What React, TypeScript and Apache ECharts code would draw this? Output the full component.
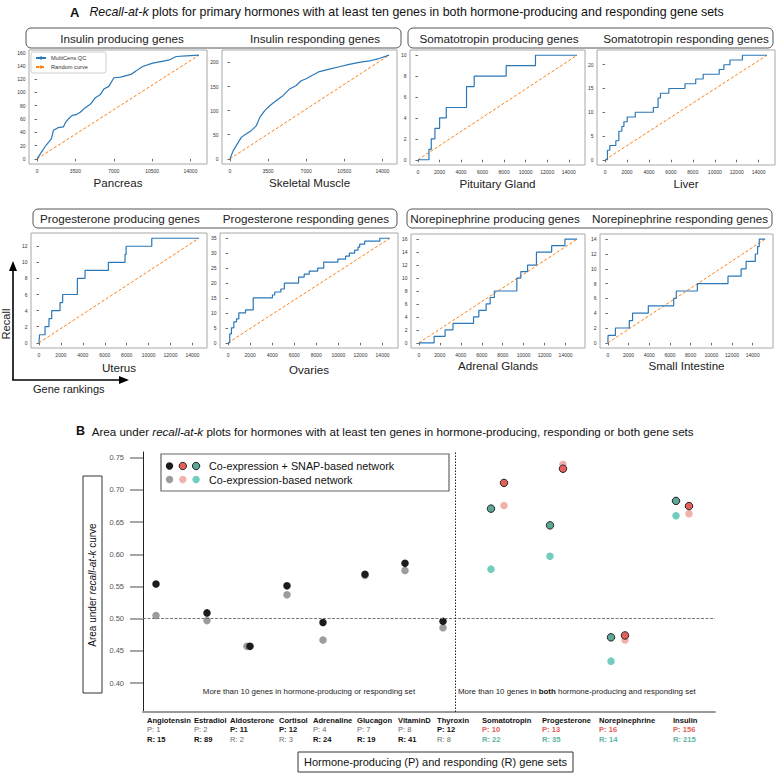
import React, { useEffect, useRef } from "react";
import * as echarts from "echarts";

// ---------------- Panel A data (gene rank, recall) ----------------
const pancreasCurve = [[0,0],[400,10],[800,20],[1300,30],[1500,43],[1940,47],[2400,48],[2600,55],[2860,60],[3170,65],[3630,67],[3940,70],[4400,77],[4860,82],[5320,92],[5785,97],[6090,105],[6550,109],[7015,122],[7630,123],[8550,127],[9015,132],[9630,139],[10550,144],[11170,146],[12090,149],[12700,154],[13630,155],[14770,156]];
const skeletalMuscleCurve = [[0,0],[300,17],[760,34],[1065,45],[1520,52],[1980,59],[2430,69],[2740,86],[3195,100],[3650,110],[4260,121],[4870,131],[5480,145],[6090,152],[6540,162],[7000,166],[7455,172],[8215,181],[9130,186],[10040,191],[10950,196],[11870,200],[12780,203],[13690,208],[14610,215]];
const pituitaryCurve = [[0,0],[1020,1],[1236,2],[1576,3],[2010,4],[2627,5],[4510,7],[5220,8],[8190,9],[10910,10],[14770,10]];
const liverCurve = [[0,0],[215,2],[430,3],[980,4],[1255,6],[1530,7],[1715,8],[2020,9],[2750,10],[4400,11],[4830,13],[5050,14],[5810,15],[7280,16],[8260,17],[8940,18],[10400,19],[10830,20],[11380,21],[12520,22],[14750,22]];
const uterusCurve = [[0,0],[50,1],[550,2],[910,3],[1160,4],[1920,5],[2160,6],[3500,8],[4200,9],[6330,10],[7850,11],[7950,12],[10290,13],[14600,13]];
const ovariesCurve = [[0,0],[150,3],[300,5],[520,7],[760,8],[975,10],[1580,11],[2280,15],[4020,16],[4230,17],[4780,18],[5100,20],[6390,22],[6900,23],[7360,24],[8120,25],[8670,27],[9950,28],[10650,29],[11000,30],[11470,31],[11780,32],[11930,33],[12380,34],[13750,35],[14670,35]];
const adrenalCurve = [[0,0],[1454,1],[2500,2],[3255,3],[5215,4],[5720,5],[6420,6],[6800,7],[7200,8],[9350,10],[9730,11],[10370,12],[11220,14],[12670,15],[13940,16],[15100,16]];
const smallIntestineCurve = [[0,0],[20,1],[730,2],[2070,3],[2385,4],[3910,5],[6360,6],[6615,7],[8650,8],[11610,9],[12880,10],[13360,11],[14250,12],[14470,13],[14630,14],[15200,14]];

const insulinXTicks = [0, 3500, 7000, 10500, 14000];
const stepXTicks = [0, 2000, 4000, 6000, 8000, 10000, 12000, 14000];
const pancreasYTicks = [0, 20, 40, 60, 80, 100, 120, 140, 160];
const skeletalYTicks = [0, 50, 100, 150, 200];
const pituitaryYTicks = [0, 2, 4, 6, 8, 10];
const liverYTicks = [0, 5, 10, 15, 20];
const uterusYTicks = [0, 2, 4, 6, 8, 10, 12];
const ovariesYTicks = [0, 5, 10, 15, 20, 25, 30, 35];
const adrenalYTicks = [0, 2, 4, 6, 8, 10, 12, 14, 16];
const intestineYTicks = [0, 2, 4, 6, 8, 10, 12, 14];

const panelTitles = [
  "Insulin producing genes", "Insulin responding genes",
  "Somatotropin producing genes", "Somatotropin responding genes",
  "Progesterone producing genes", "Progesterone responding genes",
  "Norepinephrine producing genes", "Norepinephrine responding genes",
];
const tissues = ["Pancreas", "Skeletal Muscle", "Pituitary Gland", "Liver", "Uterus", "Ovaries", "Adrenal Glands", "Small Intestine"];
const curves = [pancreasCurve, skeletalMuscleCurve, pituitaryCurve, liverCurve, uterusCurve, ovariesCurve, adrenalCurve, smallIntestineCurve];
const stepped = [false, false, true, true, true, true, true, true];
const xTicksList = [insulinXTicks, insulinXTicks, stepXTicks, stepXTicks, stepXTicks, stepXTicks, stepXTicks, stepXTicks];
const yTicksList = [pancreasYTicks, skeletalYTicks, pituitaryYTicks, liverYTicks, uterusYTicks, ovariesYTicks, adrenalYTicks, intestineYTicks];

// ---------------- Panel B data ----------------
const hormonesA = ["Angiotensin", "Estradiol", "Aldosterone", "Cortisol", "Adrenaline", "Glucagon", "VitaminD", "Thyroxin"];
const producingA = [1, 2, 11, 12, 4, 7, 8, 12];
const respondingA = [15, 89, 2, 3, 24, 19, 41, 8];
const snapAucA = [0.554, 0.509, 0.457, 0.551, 0.494, 0.569, 0.586, 0.496];
const coexpAucA = [0.505, 0.497, 0.457, 0.537, 0.467, 0.567, 0.575, 0.486];
const hormonesB = ["Somatotropin", "Progesterone", "Norepinephrine", "Insulin"];
const producingB = [10, 13, 16, 156];
const respondingB = [22, 35, 14, 215];
const snapAucP = [0.711, 0.733, 0.474, 0.675];
const coexpAucP = [0.676, 0.740, 0.467, 0.663];
const snapAucR = [0.671, 0.645, 0.471, 0.683];
const coexpAucR = [0.577, 0.597, 0.434, 0.660];
// column positions along the category strip
const snapColA = [13, 64, 107, 144, 180, 222, 262, 300];
const coexpColA = [13, 64, 104, 144, 180, 222, 262, 300];
const colR = [348, 407, 468, 533];
const colP = [361, 420, 482, 546];
const labelColA = [4, 51, 87, 136, 170, 214, 255, 294];
const labelColB = [339, 399, 456, 530];
const splitColumn = 312;
const chanceAuc = 0.5;
const aucTicks = [0.4, 0.45, 0.5, 0.55, 0.6, 0.65, 0.7, 0.75];

// ---------------- layout ----------------
const FONT = "'Liberation Sans', Arial, Helvetica, sans-serif";
const frames = [
  { l: 29, t: 50, w: 178, h: 114, gap: 12 },
  { l: 222, t: 50, w: 175, h: 114, gap: 12 },
  { l: 410, t: 50, w: 175, h: 115, gap: 12 },
  { l: 597, t: 50, w: 178, h: 115, gap: 12 },
  { l: 31, t: 233, w: 176, h: 115, gap: 13 },
  { l: 220, t: 233, w: 178, h: 115, gap: 15 },
  { l: 411, t: 234, w: 174, h: 114, gap: 11 },
  { l: 600, t: 234, w: 173, h: 114, gap: 11 },
];
const titleCenters = [[122, 38], [315, 38], [499, 38], [686, 38], [120, 218.5], [306, 218.5], [495, 218.5], [680, 218.5]];
const titleBoxes = [[26, 28, 375, 20], [408, 28, 365, 20], [33, 209, 364, 19], [407, 209, 365, 19]];
const BG = { l: 143, t: 452, w: 572, h: 260 };

const RED = "#e5605a", RED_L = "#f0b2aa", TEAL = "#5ca696", TEAL_L = "#72cdbf";

export default function App() {
  const ref = useRef<HTMLDivElement>(null);
  useEffect(() => {
    const chart = echarts.init(ref.current!, null, { renderer: "svg" });
    const grid: any[] = [], xAxis: any[] = [], yAxis: any[] = [], series: any[] = [];

    curves.forEach((curve, i) => {
      const f = frames[i];
      const last = curve[curve.length - 1];
      const xmax = last[0], ymax = last[1];
      grid.push({ left: f.l, top: f.t, width: f.w, height: f.h, show: true, borderColor: "#a8a8a8", borderWidth: 1, containLabel: false, outerBoundsMode: "none" });
      xAxis.push({
        type: "value", gridIndex: i, min: -0.05 * xmax, max: 1.05 * xmax,
        axisLine: { show: false }, splitLine: { show: false },
        axisTick: { show: true, customValues: xTicksList[i], length: 2.5, lineStyle: { color: "#444", width: 0.8 } },
        axisLabel: { customValues: xTicksList[i], formatter: (v: number) => String(v), fontSize: 5, color: "#333", margin: 4, fontFamily: FONT },
        name: tissues[i], nameLocation: "middle", nameGap: f.gap,
        nameTextStyle: { fontSize: 11.6, color: "#222", fontFamily: FONT },
      });
      yAxis.push({
        type: "value", gridIndex: i, min: -0.05 * ymax, max: 1.05 * ymax,
        axisLine: { show: false }, splitLine: { show: false },
        axisTick: { show: true, customValues: yTicksList[i], length: 2.5, lineStyle: { color: "#444", width: 0.8 } },
        axisLabel: { customValues: yTicksList[i], formatter: (v: number) => String(v), fontSize: 5, color: "#333", margin: 3.5, fontFamily: FONT },
      });
      series.push({
        type: "line", name: "MultiCens QC", xAxisIndex: i, yAxisIndex: i, data: curve,
        step: stepped[i] ? "end" : false, symbol: "none", showSymbol: false,
        lineStyle: { color: "#2a78b8", width: 1.2 }, itemStyle: { color: "#2a78b8" }, z: 3,
      });
      series.push({
        type: "line", name: "Random curve", xAxisIndex: i, yAxisIndex: i, data: [[0, 0], [xmax, ymax]],
        symbol: "none", showSymbol: false,
        lineStyle: { color: "#ff7f0e", width: 1, type: [3, 2] }, itemStyle: { color: "#ff7f0e" }, z: 2,
      });
    });

    const bi = curves.length;
    grid.push({ left: BG.l, top: BG.t, width: BG.w, height: BG.h, show: false, containLabel: false, outerBoundsMode: "none" });
    xAxis.push({
      type: "value", gridIndex: bi, min: 0, max: BG.w,
      axisLine: { show: true, lineStyle: { color: "#9a9a9a", width: 2 } },
      axisTick: { show: false }, axisLabel: { show: false }, splitLine: { show: false },
    });
    yAxis.push({
      type: "value", gridIndex: bi, min: 0.355, max: 0.759,
      axisLine: { show: true, lineStyle: { color: "#222", width: 1 } },
      splitLine: { show: false },
      axisTick: { show: true, customValues: aucTicks, length: 13, lineStyle: { color: "#8a8a8a", width: 1.5 } },
      axisLabel: { customValues: aucTicks, formatter: (v: number) => v.toFixed(2), fontSize: 7.5, color: "#555", margin: 19, fontFamily: FONT },
    });
    const sym = 7.5;
    series.push({
      type: "scatter", name: "coexpA", xAxisIndex: bi, yAxisIndex: bi, symbolSize: sym,
      data: coexpAucA.map((v, i) => [coexpColA[i], v]), itemStyle: { color: "#9c9c9c", opacity: 1 }, z: 3,
      markLine: {
        silent: true, symbol: ["none", "none"], label: { show: false },
        data: [
          { yAxis: chanceAuc, lineStyle: { color: "#777", type: [3, 1.5], width: 1 } },
          { xAxis: splitColumn, lineStyle: { color: "#222", type: [1.5, 1.5], width: 1 } },
        ],
      },
    });
    series.push({
      type: "scatter", name: "snapA", xAxisIndex: bi, yAxisIndex: bi, symbolSize: sym,
      data: snapAucA.map((v, i) => [snapColA[i], v]), itemStyle: { color: "#1c1c1c", opacity: 1 }, z: 4,
    });
    series.push({
      type: "scatter", name: "coexpR", xAxisIndex: bi, yAxisIndex: bi, symbolSize: sym,
      data: coexpAucR.map((v, i) => [colR[i], v]), itemStyle: { color: TEAL_L, opacity: 1 }, z: 3,
    });
    series.push({
      type: "scatter", name: "coexpP", xAxisIndex: bi, yAxisIndex: bi, symbolSize: sym,
      data: coexpAucP.map((v, i) => [colP[i], v]), itemStyle: { color: RED_L, opacity: 1 }, z: 3,
    });
    series.push({
      type: "scatter", name: "snapR", xAxisIndex: bi, yAxisIndex: bi, symbolSize: sym,
      data: snapAucR.map((v, i) => [colR[i], v]), itemStyle: { color: TEAL, borderColor: "#262626", borderWidth: 1, opacity: 1 }, z: 4,
    });
    series.push({
      type: "scatter", name: "snapP", xAxisIndex: bi, yAxisIndex: bi, symbolSize: sym,
      data: snapAucP.map((v, i) => [colP[i], v]), itemStyle: { color: RED, borderColor: "#262626", borderWidth: 1, opacity: 1 }, z: 4,
    });

    chart.setOption({
      animation: false,
      backgroundColor: "#ffffff",
      textStyle: { fontFamily: FONT },
      grid, xAxis, yAxis, series,
      legend: {
        data: ["MultiCens QC", "Random curve"], orient: "vertical", left: 31, top: 52,
        itemWidth: 10, itemHeight: 4, itemGap: 3, padding: [3, 18, 3, 4],
        borderColor: "#cfcfcf", borderWidth: 1, borderRadius: 2, backgroundColor: "#fff",
        textStyle: { fontSize: 5.7, color: "#333", fontFamily: FONT }, selectedMode: false,
      },
    });

    const g: any[] = [];
    const txt = (x: number, y: number, text: string, fontSize: number, extra: any = {}) => ({
      type: "text", x, y, z: 10,
      style: { text, fontSize, fontFamily: FONT, fill: "#111", align: "center", verticalAlign: "middle", ...extra },
    });

    // Panel A titles
    g.push({
      type: "text", x: 70, y: 12, style: {
        text: "{a|A}   {i|Recall-at-k}{n| plots for primary hormones with at least ten genes in both hormone-producing and responding gene sets}",
        fontFamily: FONT, verticalAlign: "middle", align: "left",
        rich: {
          a: { fontWeight: "bold", fontSize: 13, fill: "#111", fontFamily: FONT },
          i: { fontStyle: "italic", fontSize: 12.4, fill: "#111", fontFamily: FONT },
          n: { fontSize: 12.4, fill: "#111", fontFamily: FONT },
        },
      },
    });
    titleBoxes.forEach(([x, y, w, h]) => {
      g.push({ type: "rect", shape: { x, y, width: w, height: h, r: 5 }, style: { fill: "none", stroke: "#555", lineWidth: 1 } });
    });
    panelTitles.forEach((t, i) => g.push(txt(titleCenters[i][0], titleCenters[i][1], t, 11.7, { fill: "#222" })));

    // Recall / Gene rankings arrows
    g.push({ type: "line", shape: { x1: 13, y1: 380, x2: 13, y2: 268 }, style: { stroke: "#000", lineWidth: 1.6 } });
    g.push({ type: "polygon", shape: { points: [[13, 261], [9, 271], [17, 271]] }, style: { fill: "#000" } });
    g.push({ type: "line", shape: { x1: 12.2, y1: 380, x2: 122, y2: 380 }, style: { stroke: "#000", lineWidth: 1.6 } });
    g.push({ type: "polygon", shape: { points: [[129, 380], [119, 376], [119, 384]] }, style: { fill: "#000" } });
    g.push({ ...txt(6, 324, "Recall", 11.2, { fill: "#222" }), rotation: Math.PI / 2 });
    g.push(txt(33, 389, "Gene rankings", 11, { align: "left", fill: "#222" }));

    // Panel B title
    g.push({
      type: "text", x: 76, y: 431, style: {
        text: "{a|B}  {n|Area under }{i|recall-at-k}{n| plots for hormones with at least ten genes in hormone-producing, responding or both gene sets}",
        fontFamily: FONT, verticalAlign: "middle", align: "left",
        rich: {
          a: { fontWeight: "bold", fontSize: 12.5, fill: "#111", fontFamily: FONT },
          i: { fontStyle: "italic", fontSize: 11.6, fill: "#111", fontFamily: FONT },
          n: { fontSize: 11.6, fill: "#111", fontFamily: FONT },
        },
      },
    });
    // Panel B legend
    g.push({ type: "rect", shape: { x: 161, y: 454, width: 288, height: 37 }, style: { fill: "#fff", stroke: "#666", lineWidth: 1.2 }, z: 5 });
    [["#1c1c1c", RED, TEAL], ["#9c9c9c", RED_L, TEAL_L]].forEach((row, ri) => {
      row.forEach((c, ci) => {
        const border = ri === 0 && ci > 0;
        g.push({ type: "circle", z: 6, shape: { cx: 169.5 + ci * 13.3, cy: 466 + ri * 13.5, r: 3.7 }, style: { fill: c, stroke: border ? "#262626" : null, lineWidth: border ? 1 : 0 } });
      });
    });
    g.push({ ...txt(209, 466, "Co-expression + SNAP-based network", 10.8, { align: "left", fill: "#111" }), z: 6 });
    g.push({ ...txt(209, 479.5, "Co-expression-based network", 10.8, { align: "left", fill: "#111" }), z: 6 });

    // y-axis name box
    g.push({ type: "rect", shape: { x: 83, y: 476, width: 19, height: 217 }, style: { fill: "none", stroke: "#333", lineWidth: 1 } });
    g.push({
      type: "text", x: 92.5, y: 585, rotation: Math.PI / 2, style: {
        text: "{n|Area under }{i|recall-at-k}{n| curve}", align: "center", verticalAlign: "middle", fontFamily: FONT,
        rich: {
          n: { fontSize: 10, fill: "#111", fontFamily: FONT },
          i: { fontSize: 10, fontStyle: "italic", fill: "#111", fontFamily: FONT },
        },
      },
    });
    // region captions
    g.push(txt(309, 691, "More than 10 genes in hormone-producing or responding set", 7.9, { fill: "#222" }));
    g.push({
      type: "text", x: 458, y: 691, style: {
        text: "{n|More than 10 genes in }{b|both}{n| hormone-producing and responding set}", align: "left", verticalAlign: "middle", fontFamily: FONT,
        rich: {
          n: { fontSize: 7.9, fill: "#222", fontFamily: FONT },
          b: { fontSize: 7.9, fill: "#111", fontWeight: "bold", fontFamily: FONT },
        },
      },
    });

    // hormone labels under the strip
    const labelRich = {
      nm: { fontSize: 7.6, fontWeight: "bold", fill: "#111", fontFamily: FONT, lineHeight: 9.6 },
      cn: { fontSize: 7.6, fill: "#6a6a6a", fontFamily: FONT, lineHeight: 9.6 },
      cb: { fontSize: 7.6, fontWeight: "bold", fill: "#111", fontFamily: FONT, lineHeight: 9.6 },
      cp: { fontSize: 7.6, fontWeight: "bold", fill: RED, fontFamily: FONT, lineHeight: 9.6 },
      cr: { fontSize: 7.6, fontWeight: "bold", fill: "#5cb5a5", fontFamily: FONT, lineHeight: 9.6 },
    };
    const px = (v: number) => chart.convertToPixel({ xAxisIndex: bi }, v) as number;
    hormonesA.forEach((h, i) => {
      const p = producingA[i] >= 10 ? "cb" : "cn";
      const r = respondingA[i] >= 10 ? "cb" : "cn";
      g.push({ type: "text", x: px(labelColA[i]), y: 715.5, style: { text: `{nm|${h}}\n{${p}|P: ${producingA[i]}}\n{${r}|R: ${respondingA[i]}}`, align: "left", verticalAlign: "top", rich: labelRich, fontFamily: FONT } });
    });
    hormonesB.forEach((h, i) => {
      g.push({ type: "text", x: px(labelColB[i]), y: 715.5, style: { text: `{nm|${h}}\n{cp|P: ${producingB[i]}}\n{cr|R: ${respondingB[i]}}`, align: "left", verticalAlign: "top", rich: labelRich, fontFamily: FONT } });
    });
    // bottom caption box
    g.push({ type: "rect", shape: { x: 298, y: 752, width: 275, height: 20 }, style: { fill: "none", stroke: "#333", lineWidth: 1 } });
    g.push(txt(435.5, 762, "Hormone-producing (P) and responding (R) gene sets", 11, { fill: "#111" }));

    chart.setOption({ graphic: g });
    return () => chart.dispose();
  }, []);
  return <div ref={ref} style={{ position: "absolute", left: 0, top: 0, width: 777, height: 774, background: "#fff" }} />;
}
